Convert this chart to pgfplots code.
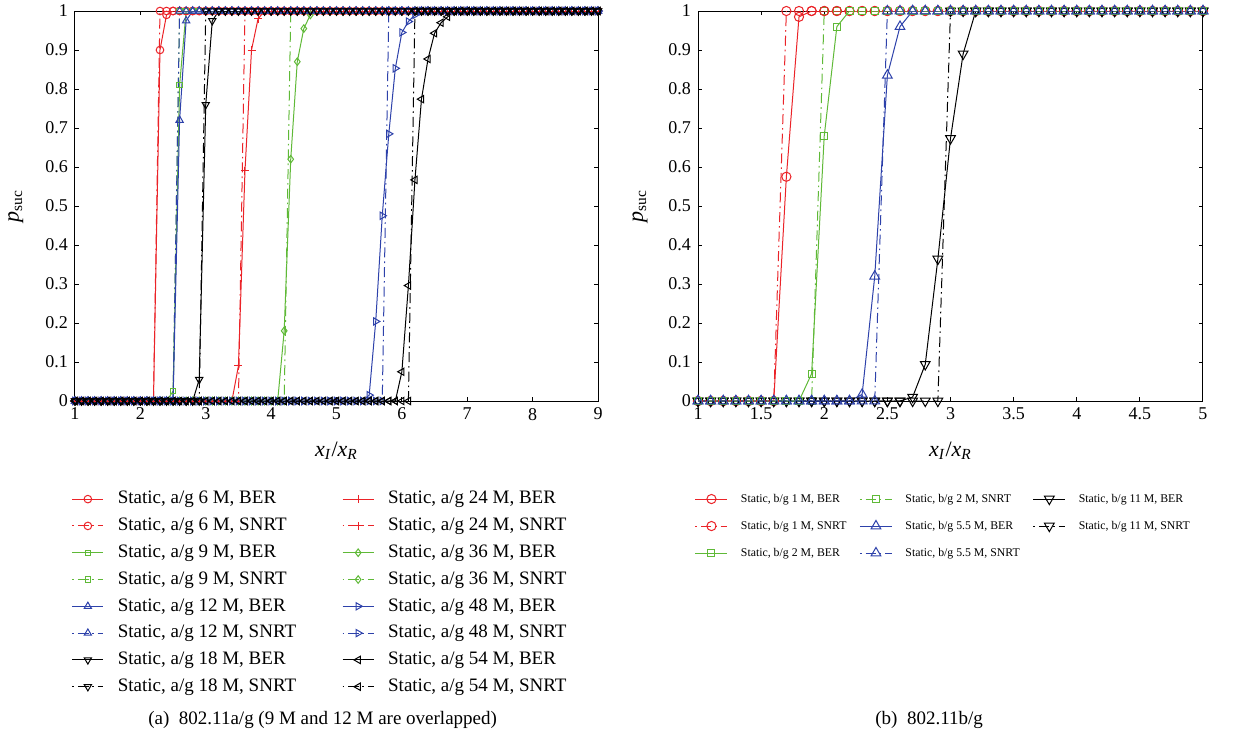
\documentclass[border=0pt]{standalone}
\usepackage{fontspec}
\setmainfont{Liberation Serif}
\usepackage{pgfplots}
\usepackage{pgfplotstable}
\pgfplotsset{compat=1.18}

\definecolor{mred}{RGB}{235,35,40}
\definecolor{mgreen}{RGB}{95,185,55}
\definecolor{mblue}{RGB}{45,65,170}

% Left panel: 802.11a/g
\pgfplotstableread{
x s1 s2 s3 s4 s5 s6 s7 s8 s9 s10 s11 s12 s13 s14 s15 s16
1.0 0 0 0 0 0 0 0 0 0 0 0 0 0 0 0 0
1.1 0 0 0 0 0 0 0 0 0 0 0 0 0 0 0 0
1.2 0 0 0 0 0 0 0 0 0 0 0 0 0 0 0 0
1.3 0 0 0 0 0 0 0 0 0 0 0 0 0 0 0 0
1.4 0 0 0 0 0 0 0 0 0 0 0 0 0 0 0 0
1.5 0 0 0 0 0 0 0 0 0 0 0 0 0 0 0 0
1.6 0 0 0 0 0 0 0 0 0 0 0 0 0 0 0 0
1.7 0 0 0 0 0 0 0 0 0 0 0 0 0 0 0 0
1.8 0 0 0 0 0 0 0 0 0 0 0 0 0 0 0 0
1.9 0 0 0 0 0 0 0 0 0 0 0 0 0 0 0 0
2.0 0 0 0 0 0 0 0 0 0 0 0 0 0 0 0 0
2.1 0 0 0 0 0 0 0 0 0 0 0 0 0 0 0 0
2.2 0 0 0 0 0 0 0 0 0 0 0 0 0 0 0 0
2.3 0.9 1 0 0 0 0 0 0 0 0 0 0 0 0 0 0
2.4 0.99 1 0 0 0 0 0 0 0 0 0 0 0 0 0 0
2.5 1 1 0.025 0 0 0 0 0 0 0 0 0 0 0 0 0
2.6 1 1 0.81 1 0.72 1 0 0 0 0 0 0 0 0 0 0
2.7 1 1 1 1 0.975 1 0 0 0 0 0 0 0 0 0 0
2.8 1 1 1 1 1 1 0 0 0 0 0 0 0 0 0 0
2.9 1 1 1 1 1 1 0.055 0 0 0 0 0 0 0 0 0
3.0 1 1 1 1 1 1 0.76 1 0 0 0 0 0 0 0 0
3.1 1 1 1 1 1 1 0.975 1 0 0 0 0 0 0 0 0
3.2 1 1 1 1 1 1 1 1 0 0 0 0 0 0 0 0
3.3 1 1 1 1 1 1 1 1 0 0 0 0 0 0 0 0
3.4 1 1 1 1 1 1 1 1 0 0 0 0 0 0 0 0
3.5 1 1 1 1 1 1 1 1 0.09 0 0 0 0 0 0 0
3.6 1 1 1 1 1 1 1 1 0.59 1 0 0 0 0 0 0
3.7 1 1 1 1 1 1 1 1 0.9 1 0 0 0 0 0 0
3.8 1 1 1 1 1 1 1 1 0.98 1 0 0 0 0 0 0
3.9 1 1 1 1 1 1 1 1 1 1 0 0 0 0 0 0
4.0 1 1 1 1 1 1 1 1 1 1 0 0 0 0 0 0
4.1 1 1 1 1 1 1 1 1 1 1 0 0 0 0 0 0
4.2 1 1 1 1 1 1 1 1 1 1 0.18 0 0 0 0 0
4.3 1 1 1 1 1 1 1 1 1 1 0.62 1 0 0 0 0
4.4 1 1 1 1 1 1 1 1 1 1 0.87 1 0 0 0 0
4.5 1 1 1 1 1 1 1 1 1 1 0.955 1 0 0 0 0
4.6 1 1 1 1 1 1 1 1 1 1 0.99 1 0 0 0 0
4.7 1 1 1 1 1 1 1 1 1 1 1 1 0 0 0 0
4.8 1 1 1 1 1 1 1 1 1 1 1 1 0 0 0 0
4.9 1 1 1 1 1 1 1 1 1 1 1 1 0 0 0 0
5.0 1 1 1 1 1 1 1 1 1 1 1 1 0 0 0 0
5.1 1 1 1 1 1 1 1 1 1 1 1 1 0 0 0 0
5.2 1 1 1 1 1 1 1 1 1 1 1 1 0 0 0 0
5.3 1 1 1 1 1 1 1 1 1 1 1 1 0 0 0 0
5.4 1 1 1 1 1 1 1 1 1 1 1 1 0 0 0 0
5.5 1 1 1 1 1 1 1 1 1 1 1 1 0.015 0 0 0
5.6 1 1 1 1 1 1 1 1 1 1 1 1 0.204 0 0 0
5.7 1 1 1 1 1 1 1 1 1 1 1 1 0.475 0 0 0
5.8 1 1 1 1 1 1 1 1 1 1 1 1 0.685 1 0 0
5.9 1 1 1 1 1 1 1 1 1 1 1 1 0.853 1 0 0
6.0 1 1 1 1 1 1 1 1 1 1 1 1 0.945 1 0.075 0
6.1 1 1 1 1 1 1 1 1 1 1 1 1 0.973 1 0.296 0
6.2 1 1 1 1 1 1 1 1 1 1 1 1 0.99 1 0.567 1
6.3 1 1 1 1 1 1 1 1 1 1 1 1 1 1 0.774 1
6.4 1 1 1 1 1 1 1 1 1 1 1 1 1 1 0.877 1
6.5 1 1 1 1 1 1 1 1 1 1 1 1 1 1 0.943 1
6.6 1 1 1 1 1 1 1 1 1 1 1 1 1 1 0.97 1
6.7 1 1 1 1 1 1 1 1 1 1 1 1 1 1 0.985 1
6.8 1 1 1 1 1 1 1 1 1 1 1 1 1 1 1 1
6.9 1 1 1 1 1 1 1 1 1 1 1 1 1 1 1 1
7.0 1 1 1 1 1 1 1 1 1 1 1 1 1 1 1 1
7.1 1 1 1 1 1 1 1 1 1 1 1 1 1 1 1 1
7.2 1 1 1 1 1 1 1 1 1 1 1 1 1 1 1 1
7.3 1 1 1 1 1 1 1 1 1 1 1 1 1 1 1 1
7.4 1 1 1 1 1 1 1 1 1 1 1 1 1 1 1 1
7.5 1 1 1 1 1 1 1 1 1 1 1 1 1 1 1 1
7.6 1 1 1 1 1 1 1 1 1 1 1 1 1 1 1 1
7.7 1 1 1 1 1 1 1 1 1 1 1 1 1 1 1 1
7.8 1 1 1 1 1 1 1 1 1 1 1 1 1 1 1 1
7.9 1 1 1 1 1 1 1 1 1 1 1 1 1 1 1 1
8.0 1 1 1 1 1 1 1 1 1 1 1 1 1 1 1 1
8.1 1 1 1 1 1 1 1 1 1 1 1 1 1 1 1 1
8.2 1 1 1 1 1 1 1 1 1 1 1 1 1 1 1 1
8.3 1 1 1 1 1 1 1 1 1 1 1 1 1 1 1 1
8.4 1 1 1 1 1 1 1 1 1 1 1 1 1 1 1 1
8.5 1 1 1 1 1 1 1 1 1 1 1 1 1 1 1 1
8.6 1 1 1 1 1 1 1 1 1 1 1 1 1 1 1 1
8.7 1 1 1 1 1 1 1 1 1 1 1 1 1 1 1 1
8.8 1 1 1 1 1 1 1 1 1 1 1 1 1 1 1 1
8.9 1 1 1 1 1 1 1 1 1 1 1 1 1 1 1 1
9.0 1 1 1 1 1 1 1 1 1 1 1 1 1 1 1 1
}\tabA

% Right panel: 802.11b/g
\pgfplotstableread{
x r1 r2 r3 r4 r5 r6 r7 r8
1.0 0 0 0 0 0 0 0 0
1.1 0 0 0 0 0 0 0 0
1.2 0 0 0 0 0 0 0 0
1.3 0 0 0 0 0 0 0 0
1.4 0 0 0 0 0 0 0 0
1.5 0 0 0 0 0 0 0 0
1.6 0 0 0 0 0 0 0 0
1.7 0.575 1 0 0 0 0 0 0
1.8 0.985 1 0 0 0 0 0 0
1.9 1 1 0.07 0 0 0 0 0
2.0 1 1 0.68 1 0 0 0 0
2.1 1 1 0.96 1 0 0 0 0
2.2 1 1 1 1 0 0 0 0
2.3 1 1 1 1 0.017 0 0 0
2.4 1 1 1 1 0.32 0 0 0
2.5 1 1 1 1 0.835 1 0 0
2.6 1 1 1 1 0.96 1 0 0
2.7 1 1 1 1 1 1 0.01 0
2.8 1 1 1 1 1 1 0.094 0
2.9 1 1 1 1 1 1 0.364 0
3.0 1 1 1 1 1 1 0.673 1
3.1 1 1 1 1 1 1 0.89 1
3.2 1 1 1 1 1 1 1 1
3.3 1 1 1 1 1 1 1 1
3.4 1 1 1 1 1 1 1 1
3.5 1 1 1 1 1 1 1 1
3.6 1 1 1 1 1 1 1 1
3.7 1 1 1 1 1 1 1 1
3.8 1 1 1 1 1 1 1 1
3.9 1 1 1 1 1 1 1 1
4.0 1 1 1 1 1 1 1 1
4.1 1 1 1 1 1 1 1 1
4.2 1 1 1 1 1 1 1 1
4.3 1 1 1 1 1 1 1 1
4.4 1 1 1 1 1 1 1 1
4.5 1 1 1 1 1 1 1 1
4.6 1 1 1 1 1 1 1 1
4.7 1 1 1 1 1 1 1 1
4.8 1 1 1 1 1 1 1 1
4.9 1 1 1 1 1 1 1 1
5.0 1 1 1 1 1 1 1 1
}\tabB

\pgfplotsset{
  myaxis/.style={
    scale only axis, height=195pt, ymin=0, ymax=1,
    ytick={0,0.1,0.2,0.3,0.4,0.5,0.6,0.7,0.8,0.9,1},
    tick align=inside, major tick length=2pt,
    tick label style={font=\fontsize{9}{10}\selectfont},
    /pgf/number format/assume math mode=true,
    label style={font=\fontsize{11}{12}\selectfont},
    axis line style={line width=0.5pt},
    every tick/.style={line width=0.5pt, black},
    xlabel={\textit{x}\textsubscript{\textit{I}}/\textit{x}\textsubscript{\textit{R}}},
    ylabel={\textit{p}\textsubscript{suc}},
    legend cell align=left,
    legend image post style={dash phase=7pt},
  },
  ber/.style={line width=0.5pt},
  snrt/.style={line width=0.5pt, dash pattern=on 5pt off 2pt on 0.8pt off 2pt},
}

\begin{document}
\begin{tikzpicture}
\useasboundingbox (0,0) rectangle (619.5pt,373pt);

\begin{axis}[myaxis,
  at={(37.5pt,172.5pt)}, anchor=south west,
  width=261.5pt, xmin=1, xmax=9, xtick={1,2,3,4,5,6,7,8,9},
  xlabel style={at={(axis description cs:0.5,-0.128)}, anchor=center},
  ylabel style={at={(axis description cs:-0.113,0.5)}, anchor=center},
  legend image code/.code={\draw[mark repeat=2,mark phase=2,#1] plot coordinates {(0pt,0pt) (7.75pt,0pt) (15.5pt,0pt)};},
  legend columns=2,
  legend style={at={(axis description cs:-0.006,-0.228)}, anchor=north west,
    draw=none, fill=none, inner sep=0pt, outer sep=0pt,
    font=\fontsize{9.5}{11}\selectfont, row sep=4.2pt,
    nodes={inner sep=0pt, text height=7pt, text depth=2.2pt},
    /tikz/every odd column/.append style={column sep=7pt},
    /tikz/every even column/.append style={column sep=23pt}},
]
\addplot[mred, ber, mark=o, mark size=1.9pt, mark options={solid}] table[x=x,y=s1]{\tabA};
\addlegendentry{Static, a/g 6 M, BER}
\addplot[mred, ber, mark=+, mark size=2pt, mark options={solid}] table[x=x,y=s9]{\tabA};
\addlegendentry{Static, a/g 24 M, BER}
\addplot[mred, snrt, mark=o, mark size=1.9pt, mark options={solid}] table[x=x,y=s2]{\tabA};
\addlegendentry{Static, a/g 6 M, SNRT}
\addplot[mred, snrt, mark=+, mark size=2pt, mark options={solid}] table[x=x,y=s10]{\tabA};
\addlegendentry{Static, a/g 24 M, SNRT}
\addplot[mgreen, ber, mark=square, mark size=1.3pt, mark options={solid}] table[x=x,y=s3]{\tabA};
\addlegendentry{Static, a/g 9 M, BER}
\addplot[mgreen, ber, mark=diamond, mark size=1.9pt, mark options={solid}] table[x=x,y=s11]{\tabA};
\addlegendentry{Static, a/g 36 M, BER}
\addplot[mgreen, snrt, mark=square, mark size=1.3pt, mark options={solid}] table[x=x,y=s4]{\tabA};
\addlegendentry{Static, a/g 9 M, SNRT}
\addplot[mgreen, snrt, mark=diamond, mark size=1.9pt, mark options={solid}] table[x=x,y=s12]{\tabA};
\addlegendentry{Static, a/g 36 M, SNRT}
\addplot[mblue, ber, mark=triangle, mark size=2.1pt, mark options={solid}] table[x=x,y=s5]{\tabA};
\addlegendentry{Static, a/g 12 M, BER}
\addplot[mblue, ber, mark=triangle, mark size=2.1pt, mark options={solid, rotate=-90}] table[x=x,y=s13]{\tabA};
\addlegendentry{Static, a/g 48 M, BER}
\addplot[mblue, snrt, mark=triangle, mark size=2.1pt, mark options={solid}] table[x=x,y=s6]{\tabA};
\addlegendentry{Static, a/g 12 M, SNRT}
\addplot[mblue, snrt, mark=triangle, mark size=2.1pt, mark options={solid, rotate=-90}] table[x=x,y=s14]{\tabA};
\addlegendentry{Static, a/g 48 M, SNRT}
\addplot[black, ber, mark=triangle, mark size=2.1pt, mark options={solid, rotate=180}] table[x=x,y=s7]{\tabA};
\addlegendentry{Static, a/g 18 M, BER}
\addplot[black, ber, mark=triangle, mark size=2.1pt, mark options={solid, rotate=90}] table[x=x,y=s15]{\tabA};
\addlegendentry{Static, a/g 54 M, BER}
\addplot[black, snrt, mark=triangle, mark size=2.1pt, mark options={solid, rotate=180}] table[x=x,y=s8]{\tabA};
\addlegendentry{Static, a/g 18 M, SNRT}
\addplot[black, snrt, mark=triangle, mark size=2.1pt, mark options={solid, rotate=90}] table[x=x,y=s16]{\tabA};
\addlegendentry{Static, a/g 54 M, SNRT}
\end{axis}

\begin{axis}[myaxis,
  at={(349pt,172.5pt)}, anchor=south west,
  width=252.5pt, xmin=1, xmax=5, xtick={1,1.5,2,2.5,3,3.5,4,4.5,5},
  xlabel style={at={(axis description cs:0.5,-0.128)}, anchor=center},
  ylabel style={at={(axis description cs:-0.115,0.5)}, anchor=center},
  legend image code/.code={\draw[mark repeat=2,mark phase=2,#1] plot coordinates {(0pt,0pt) (8pt,0pt) (16pt,0pt)};},
  legend columns=3,
  legend style={at={(axis description cs:-0.006,-0.236)}, anchor=north west,
    draw=none, fill=none, inner sep=0pt, outer sep=0pt,
    font=\fontsize{5.9}{7}\selectfont, row sep=7.5pt,
    nodes={inner sep=0pt, text height=4.5pt, text depth=1.5pt},
    /tikz/every odd column/.append style={column sep=6.5pt},
    /tikz/every even column/.append style={column sep=6.5pt}},
]
\addplot[mred, ber, mark=o, mark size=2.3pt, mark options={solid}] table[x=x,y=r1]{\tabB};
\addlegendentry{Static, b/g 1 M, BER}
\addplot[mgreen, snrt, mark=square, mark size=1.75pt, mark options={solid}] table[x=x,y=r4]{\tabB};
\addlegendentry{Static, b/g 2 M, SNRT}
\addplot[black, ber, mark=triangle, mark size=2.8pt, mark options={solid, rotate=180}] table[x=x,y=r7]{\tabB};
\addlegendentry{Static, b/g 11 M, BER}
\addplot[mred, snrt, mark=o, mark size=2.3pt, mark options={solid}] table[x=x,y=r2]{\tabB};
\addlegendentry{Static, b/g 1 M, SNRT}
\addplot[mblue, ber, mark=triangle, mark size=2.8pt, mark options={solid}] table[x=x,y=r5]{\tabB};
\addlegendentry{Static, b/g 5.5 M, BER}
\addplot[black, snrt, mark=triangle, mark size=2.8pt, mark options={solid, rotate=180}] table[x=x,y=r8]{\tabB};
\addlegendentry{Static, b/g 11 M, SNRT}
\addplot[mgreen, ber, mark=square, mark size=1.75pt, mark options={solid}] table[x=x,y=r3]{\tabB};
\addlegendentry{Static, b/g 2 M, BER}
\addplot[mblue, snrt, mark=triangle, mark size=2.8pt, mark options={solid}] table[x=x,y=r6]{\tabB};
\addlegendentry{Static, b/g 5.5 M, SNRT}
\end{axis}

\node[anchor=base west, font=\fontsize{9.5}{11}\selectfont, inner sep=0pt] at (74pt,11pt) {(a)\enspace 802.11a/g (9 M and 12 M are overlapped)};
\node[anchor=base west, font=\fontsize{9.5}{11}\selectfont, inner sep=0pt] at (437.5pt,11pt) {(b)\enspace 802.11b/g};
\end{tikzpicture}
\end{document}
